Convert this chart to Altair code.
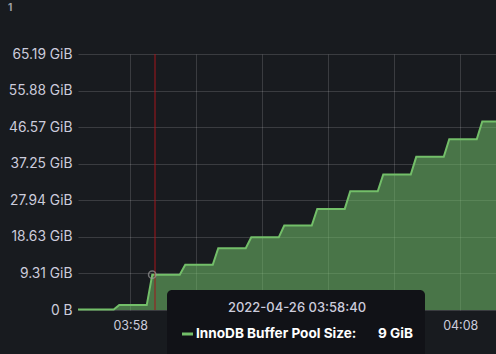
import altair as alt
import pandas as pd

DATE = "2022-04-26"

# Sample times (UTC) and InnoDB buffer pool size in GiB
times = ["03:56:25", "03:57:30", "03:57:40", "03:58:30", "03:58:40", "03:59:30",
         "03:59:40", "04:00:30", "04:00:40", "04:01:30", "04:01:40", "04:02:30",
         "04:02:40", "04:03:30", "04:03:40", "04:04:30", "04:04:40", "04:05:30",
         "04:05:40", "04:06:30", "04:06:40", "04:07:30", "04:07:40", "04:08:30",
         "04:08:40", "04:09:05"]
pool_gib = [0.125, 0.125, 1.25, 1.25, 9, 9,
            11.5, 11.5, 15.75, 15.75, 18.5, 18.5,
            21.5, 21.5, 25.75, 25.75, 30.25, 30.25,
            34.5, 34.5, 39, 39, 43.5, 43.5,
            48, 48]

x_ticks = ["03:58", "04:00", "04:02", "04:04", "04:06", "04:08"]
x_labels_visible = ["03:58", "04:08"]  # the others sit under the tooltip
y_tick_bytes = [0, 10e9, 20e9, 30e9, 40e9, 50e9, 60e9, 70e9]
x_start, x_end = "03:56:25", "04:09:05"

hover_time = "03:58:40"
hover_value = 9
cursor_time = "03:58:45"
series_name = "InnoDB Buffer Pool Size:"


def ts(t):
    return f"{DATE}T{t}Z"


def ms(t):
    return int(pd.Timestamp(ts(t)).value // 10**6)


df = pd.DataFrame({"t": [ts(t) for t in times], "v": pool_gib})
y_ticks = [round(b / 2**30, 6) for b in y_tick_bytes]

FONT = "Inter"
LABEL = "#ccccdc"
GREEN = "#73bf69"

vis = "[" + ",".join(f"'{v}'" for v in x_labels_visible) + "]"
x_scale = alt.Scale(type="utc", domain=[ms(x_start), ms(x_end)])
y_scale = alt.Scale(domain=[0, y_ticks[-1]], nice=False, zero=True)
x_enc = alt.X(
    "t:T",
    scale=x_scale,
    axis=alt.Axis(
        values=[ms(t + ":00") for t in x_ticks],
        labelExpr=f"indexof({vis}, utcFormat(datum.value, '%H:%M')) >= 0 ? utcFormat(datum.value, '%H:%M') : ''",
        title=None, domain=False, ticks=False, labelPadding=9,
        labelFont=FONT, labelFontSize=12.5, labelColor=LABEL,
        gridColor="#ffffff", gridOpacity=0.15, labelFlush=False, labelOverlap=False,
    ),
)
y_enc = alt.Y(
    "v:Q",
    scale=y_scale,
    axis=alt.Axis(
        values=y_ticks,
        labelExpr="datum.value == 0 ? '0 B' : format(datum.value, '.2f') + ' GiB'",
        title=None, domain=False, ticks=False, labelPadding=6,
        labelFont=FONT, labelFontSize=13.8, labelColor=LABEL,
        gridColor="#ffffff", gridOpacity=0.15, labelOverlap=False, labelFlush=False,
    ),
)

base = alt.Chart(df)
area = base.mark_area(color=GREEN, opacity=0.55, interpolate="linear").encode(x=x_enc, y=y_enc)
line = base.mark_line(color=GREEN, strokeWidth=2).encode(x=x_enc, y=y_enc)

cursor = alt.Chart(pd.DataFrame({"t": [ts(cursor_time)]})).mark_rule(
    color="#a3161c", strokeWidth=1
).encode(x=x_enc, y=alt.value(0), y2=alt.value(256))

marker = alt.Chart(pd.DataFrame({"t": [ts(hover_time)], "v": [hover_value]})).mark_point(
    filled=False, color="#9a9a9a", size=55, strokeWidth=1.5
).encode(x=x_enc, y=y_enc)

one = pd.DataFrame({"a": [0]})
tip_box = alt.Chart(one).mark_rect(color="#111217", cornerRadius=5).encode(
    x=alt.value(89), x2=alt.value(347), y=alt.value(236), y2=alt.value(310)
)
tip_date = alt.Chart(one).mark_text(
    align="center", baseline="middle", font=FONT, fontSize=13, fontWeight=500, color=LABEL
).encode(x=alt.value(219), y=alt.value(254), text=alt.value(f"{DATE} {hover_time}"))
tip_dash = alt.Chart(one).mark_rule(color=GREEN, strokeWidth=3).encode(
    x=alt.value(104), x2=alt.value(115), y=alt.value(280)
)
tip_name = alt.Chart(one).mark_text(
    align="left", baseline="middle", font=FONT, fontSize=13.6, fontWeight="bold", color="#ffffff"
).encode(x=alt.value(118), y=alt.value(280), text=alt.value(series_name))
tip_val = alt.Chart(one).mark_text(
    align="right", baseline="middle", font=FONT, fontSize=13.6, fontWeight="bold", color="#ffffff"
).encode(x=alt.value(335), y=alt.value(280), text=alt.value(f"{hover_value} GiB"))

corner = alt.Chart(one).mark_text(
    align="left", baseline="middle", font=FONT, fontSize=10, fontWeight="bold", color="#9fa1a5"
).encode(x=alt.value(-70), y=alt.value(-46), text=alt.value("1"))

chart = alt.layer(
    area, line, cursor, marker, tip_box, tip_date, tip_dash, tip_name, tip_val, corner
).properties(
    width=418, height=256,
    padding={"left": 78, "top": 54, "right": 0, "bottom": 44},
    autosize=alt.AutoSizeParams(type="none"),
    background="#181b1f",
).configure_view(stroke=None).configure_axis(labelOverlap=False)

chart.save("out.html", embed_options={"renderer": "svg", "actions": False})
